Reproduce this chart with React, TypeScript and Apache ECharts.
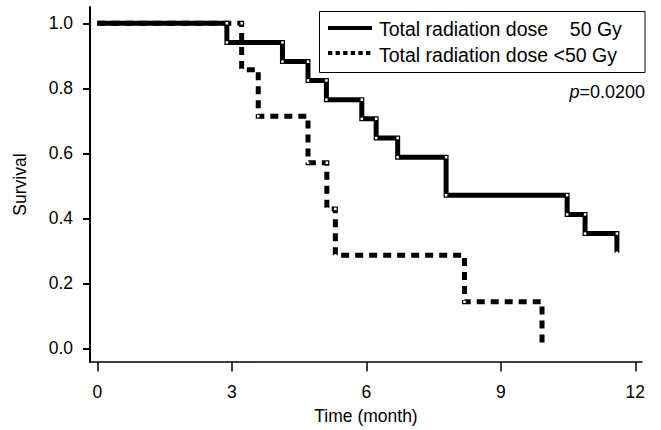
import React, { useEffect, useRef } from "react";
import * as echarts from "echarts";

const xTicks = [0, 3, 6, 9, 12];
const yTicks = [0, 0.2, 0.4, 0.6, 0.8, 1.0];
const highDoseTimes = [2.89, 4.13, 4.7, 5.11, 5.9, 6.22, 6.7, 7.78, 10.48, 10.88, 11.59];
const highDoseSurvival = [0.941, 0.882, 0.824, 0.765, 0.706, 0.647, 0.588, 0.471, 0.412, 0.353, 0.294];
const lowDoseTimes = [3.22, 3.59, 4.7, 5.12, 5.31, 8.19, 9.92];
const lowDoseSurvival = [0.857, 0.714, 0.571, 0.429, 0.286, 0.143, 0.0];
const seriesNames = ["Total radiation dose    50 Gy", "Total radiation dose <50 Gy"];
const pValueText = "=0.0200";
const xAxisName = "Time (month)";
const yAxisName = "Survival";

const FONT = "'Liberation Sans', Arial, Helvetica, sans-serif";

function kmPoints(times: number[], surv: number[]) {
  const pts: any[] = [{ value: [0, 1], symbol: "none" }];
  let prev = 1;
  times.forEach((t, i) => {
    pts.push({ value: [t, prev] });
    pts.push({ value: [t, surv[i]] });
    prev = surv[i];
  });
  return pts;
}

export default function App() {
  const ref = useRef<HTMLDivElement>(null);
  useEffect(() => {
    if (!ref.current) return;
    const chart = echarts.init(ref.current, undefined, { renderer: "svg" });
    chart.setOption({
      animation: false,
      backgroundColor: "#fff",
      textStyle: { fontFamily: FONT },
      grid: { left: 90, right: 19, top: 7, bottom: 68, containLabel: false },
      xAxis: {
        type: "value",
        min: -0.163,
        max: 12.15,
        name: xAxisName,
        nameLocation: "middle",
        nameGap: 45,
        nameTextStyle: { color: "#000", fontSize: 17.5, fontFamily: FONT },
        axisLine: { onZero: false, lineStyle: { color: "#000", width: 1.5 } },
        axisTick: { customValues: xTicks, length: 9.5, lineStyle: { color: "#000", width: 1.5 } },
        axisLabel: { customValues: xTicks, margin: 21, color: "#000", fontSize: 17.5, fontFamily: FONT },
        splitLine: { show: false },
      },
      yAxis: {
        type: "value",
        min: -0.042,
        max: 1.05,
        name: yAxisName,
        nameLocation: "middle",
        nameGap: 61,
        nameTextStyle: { color: "#000", fontSize: 17.5, fontFamily: FONT },
        axisLine: { onZero: false, lineStyle: { color: "#000", width: 2 } },
        axisTick: { customValues: yTicks, length: 7, lineStyle: { color: "#000", width: 2 } },
        axisLabel: {
          customValues: yTicks,
          margin: 17,
          color: "#000",
          fontSize: 17.5,
          fontFamily: FONT,
          formatter: (v: number) => v.toFixed(1),
        },
        splitLine: { show: false },
      },
      series: [
        {
          name: seriesNames[1],
          type: "line",
          data: kmPoints(lowDoseTimes, lowDoseSurvival),
          symbol: "rect",
          symbolSize: 2.5,
          showSymbol: true,
          itemStyle: { color: "#fff", borderWidth: 0 },
          lineStyle: { color: "#000", width: 5, type: [8, 6], cap: "butt", join: "miter" },
          z: 2,
        },
        {
          name: seriesNames[0],
          type: "line",
          data: kmPoints(highDoseTimes, highDoseSurvival),
          symbol: "rect",
          symbolSize: 2.5,
          showSymbol: true,
          itemStyle: { color: "#fff", borderWidth: 0 },
          lineStyle: { color: "#000", width: 5, type: "solid", cap: "butt", join: "miter" },
          z: 3,
        },
      ],
      graphic: [
        {
          type: "rect",
          shape: { x: 319.5, y: 11.5, width: 325.5, height: 61 },
          style: { fill: "#fff", stroke: "#000", lineWidth: 1 },
          z: 10,
        },
        {
          type: "line",
          shape: { x1: 328, y1: 28, x2: 372, y2: 28 },
          style: { stroke: "#000", lineWidth: 4 },
          z: 11,
        },
        {
          type: "line",
          shape: { x1: 328, y1: 53, x2: 372, y2: 53 },
          style: { stroke: "#000", lineWidth: 4, lineDash: [4.3, 3.3] },
          z: 11,
        },
        {
          type: "text",
          x: 379,
          y: 28.5,
          style: { text: seriesNames[0], fill: "#000", font: `19.5px ${FONT}`, verticalAlign: "middle", align: "left" },
          z: 11,
        },
        {
          type: "text",
          x: 379,
          y: 54.5,
          style: { text: seriesNames[1], fill: "#000", font: `19.5px ${FONT}`, verticalAlign: "middle", align: "left" },
          z: 11,
        },
        {
          type: "text",
          x: 645,
          y: 92,
          style: {
            text: "{i|p}{n|" + pValueText + "}",
            align: "right",
            verticalAlign: "middle",
            rich: {
              i: { fontStyle: "italic", fontSize: 18, fontFamily: FONT, fill: "#000" },
              n: { fontSize: 18, fontFamily: FONT, fill: "#000" },
            },
          },
          z: 11,
        },
      ],
    });
    return () => chart.dispose();
  }, []);
  return <div ref={ref} style={{ width: 661, height: 430, position: "absolute", left: 0, top: 0 }} />;
}
